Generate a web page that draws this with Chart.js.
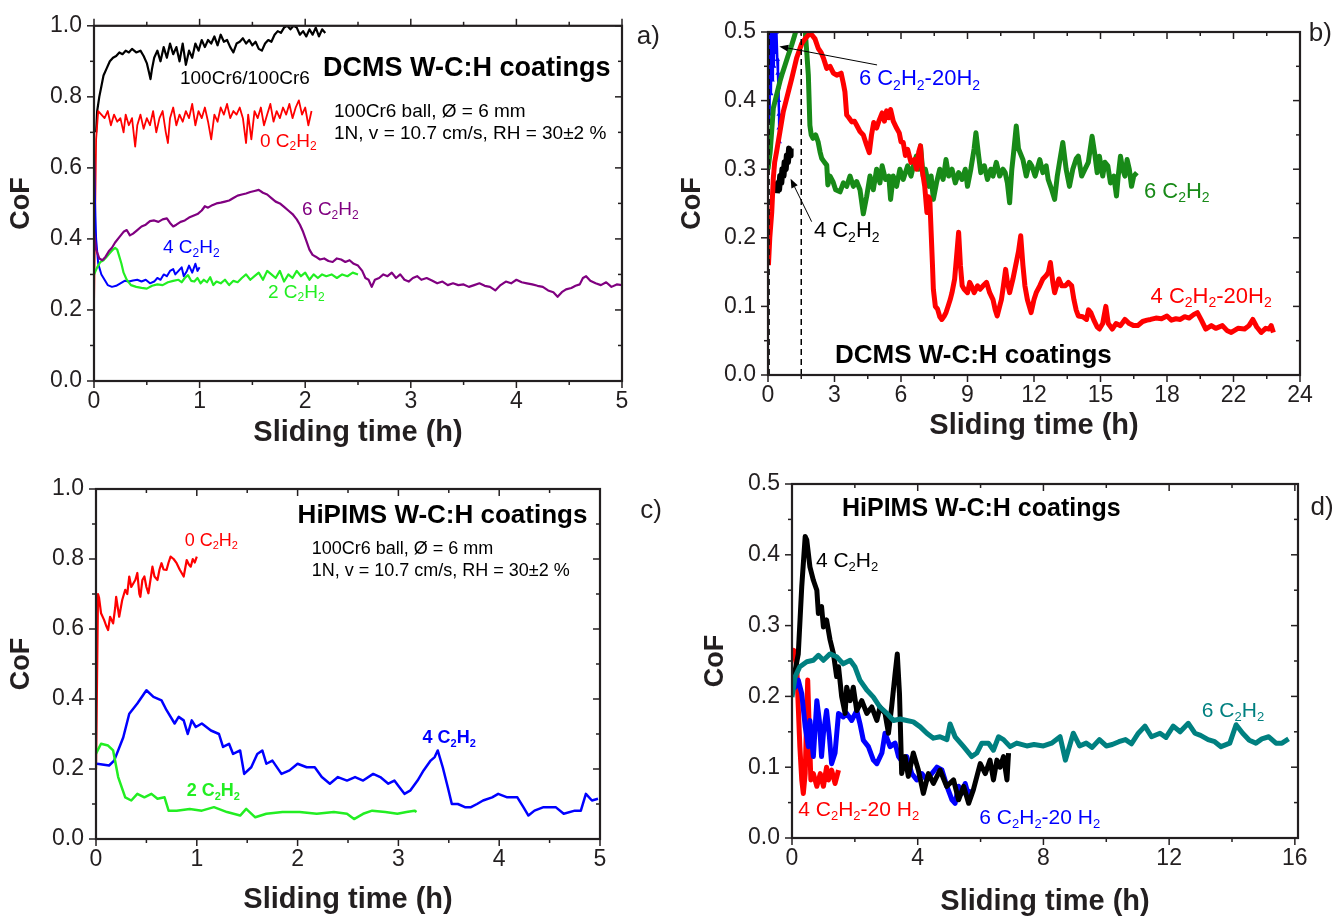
<!DOCTYPE html>
<html><head><meta charset="utf-8">
<script src="https://cdn.jsdelivr.net/npm/chart.js@4.4.1/dist/chart.umd.min.js"></script>
<style>
html,body{margin:0;padding:0;background:#fff;}
#wrap{position:relative;width:1336px;height:917px;overflow:hidden;background:#fff;}
canvas{position:absolute;left:0;top:0;}
</style></head>
<body><div id="wrap">
<canvas id="ca" width="1336" height="917"></canvas>
<canvas id="cb" width="1336" height="917"></canvas>
<canvas id="cc" width="1336" height="917"></canvas>
<canvas id="cd" width="1336" height="917"></canvas>
</div>
<script>
// ---------------- DATA (time in h, CoF) ----------------
const b_xTickLabels = ['0','3','6','9','12','15','18','22','24'];

// Panel a) DCMS, 1 N
const a_steel = [[0.02,0.70],[0.03,0.76],[0.05,0.80],[0.07,0.83],[0.09,0.86],[0.12,0.88],[0.15,0.90],[0.18,0.91],[0.21,0.915],[0.24,0.925],[0.27,0.92],[0.3,0.93],[0.33,0.925],[0.36,0.935],[0.4,0.925],[0.44,0.93],[0.47,0.915],[0.5,0.895],[0.52,0.87],[0.535,0.85],[0.55,0.88],[0.57,0.91],[0.6,0.93],[0.63,0.9],[0.66,0.94],[0.69,0.91],[0.72,0.95],[0.75,0.92],[0.78,0.94],[0.81,0.9],[0.84,0.95],[0.87,0.89],[0.9,0.93],[0.93,0.91],[0.96,0.95],[0.99,0.93],[1.02,0.96],[1.05,0.94],[1.08,0.96],[1.11,0.95],[1.14,0.97],[1.17,0.945],[1.2,0.975],[1.23,0.955],[1.26,0.96],[1.29,0.94],[1.32,0.925],[1.35,0.95],[1.38,0.955],[1.41,0.965],[1.44,0.95],[1.47,0.96],[1.5,0.945],[1.53,0.955],[1.56,0.935],[1.59,0.93],[1.62,0.95],[1.65,0.96],[1.68,0.955],[1.71,0.975],[1.74,0.985],[1.77,0.98],[1.8,0.995],[1.83,1.0],[1.86,0.99],[1.89,1.0],[1.92,0.995],[1.95,0.975],[1.98,0.985],[2.01,0.97],[2.04,0.99],[2.07,0.975],[2.1,0.995],[2.13,0.97],[2.16,0.99],[2.19,0.98]];
const a_c0 = [[0,0.2],[0.01,0.45],[0.02,0.68],[0.04,0.76],[0.07,0.75],[0.1,0.74],[0.13,0.76],[0.16,0.72],[0.19,0.75],[0.22,0.73],[0.25,0.74],[0.28,0.70],[0.3,0.75],[0.33,0.72],[0.36,0.74],[0.39,0.66],[0.41,0.72],[0.44,0.75],[0.47,0.71],[0.5,0.74],[0.53,0.72],[0.56,0.76],[0.59,0.70],[0.62,0.74],[0.65,0.76],[0.68,0.70],[0.7,0.67],[0.72,0.74],[0.75,0.77],[0.78,0.72],[0.81,0.75],[0.84,0.73],[0.87,0.76],[0.9,0.74],[0.93,0.78],[0.96,0.72],[0.99,0.76],[1.02,0.74],[1.05,0.77],[1.08,0.73],[1.11,0.68],[1.14,0.75],[1.17,0.73],[1.2,0.77],[1.23,0.75],[1.26,0.78],[1.29,0.74],[1.32,0.76],[1.35,0.75],[1.38,0.77],[1.41,0.74],[1.44,0.67],[1.46,0.75],[1.49,0.68],[1.52,0.76],[1.55,0.74],[1.58,0.77],[1.61,0.72],[1.64,0.75],[1.67,0.78],[1.7,0.73],[1.73,0.76],[1.76,0.74],[1.79,0.77],[1.82,0.75],[1.85,0.78],[1.88,0.74],[1.91,0.77],[1.94,0.79],[1.97,0.75],[2.0,0.77],[2.03,0.72],[2.06,0.76]];
const a_c6 = [[0,0.42],[0.02,0.37],[0.05,0.345],[0.08,0.34],[0.11,0.35],[0.14,0.365],[0.17,0.375],[0.2,0.39],[0.24,0.405],[0.28,0.42],[0.31,0.425],[0.34,0.41],[0.37,0.415],[0.41,0.425],[0.45,0.435],[0.49,0.44],[0.53,0.45],[0.57,0.452],[0.61,0.448],[0.65,0.455],[0.69,0.458],[0.72,0.445],[0.75,0.435],[0.78,0.44],[0.82,0.448],[0.86,0.452],[0.9,0.46],[0.94,0.465],[0.98,0.47],[1.02,0.48],[1.05,0.492],[1.08,0.488],[1.12,0.495],[1.16,0.5],[1.2,0.502],[1.24,0.505],[1.28,0.508],[1.32,0.515],[1.36,0.522],[1.4,0.525],[1.44,0.528],[1.48,0.532],[1.52,0.535],[1.56,0.538],[1.6,0.53],[1.64,0.525],[1.68,0.515],[1.72,0.505],[1.76,0.5],[1.8,0.49],[1.84,0.48],[1.88,0.47],[1.92,0.455],[1.95,0.44],[1.98,0.42],[2.01,0.395],[2.04,0.37],[2.07,0.355],[2.1,0.35],[2.14,0.342],[2.18,0.345],[2.22,0.338],[2.26,0.335],[2.3,0.345],[2.34,0.342],[2.38,0.335],[2.42,0.34],[2.46,0.33],[2.5,0.325],[2.54,0.31],[2.57,0.29],[2.6,0.285],[2.63,0.265],[2.66,0.285],[2.7,0.29],[2.74,0.3],[2.78,0.295],[2.82,0.305],[2.86,0.29],[2.9,0.3],[2.94,0.285],[2.98,0.28],[3.02,0.29],[3.06,0.295],[3.1,0.285],[3.15,0.29],[3.2,0.283],[3.25,0.275],[3.3,0.28],[3.35,0.27],[3.4,0.275],[3.45,0.27],[3.5,0.272],[3.55,0.265],[3.6,0.27],[3.65,0.275],[3.7,0.268],[3.75,0.265],[3.8,0.255],[3.85,0.27],[3.9,0.28],[3.95,0.275],[4.0,0.285],[4.05,0.278],[4.1,0.275],[4.15,0.272],[4.2,0.268],[4.25,0.265],[4.3,0.255],[4.35,0.25],[4.39,0.237],[4.43,0.25],[4.47,0.258],[4.52,0.262],[4.56,0.268],[4.6,0.272],[4.63,0.29],[4.66,0.295],[4.7,0.282],[4.75,0.275],[4.8,0.27],[4.85,0.278],[4.9,0.265],[4.95,0.272],[5.0,0.27]];
const a_c4 = [[0,0.64],[0.01,0.5],[0.02,0.4],[0.04,0.33],[0.07,0.3],[0.1,0.285],[0.13,0.27],[0.17,0.265],[0.21,0.268],[0.25,0.275],[0.29,0.282],[0.33,0.28],[0.37,0.283],[0.41,0.285],[0.45,0.28],[0.49,0.285],[0.53,0.275],[0.57,0.28],[0.6,0.29],[0.63,0.285],[0.66,0.3],[0.69,0.295],[0.72,0.31],[0.75,0.315],[0.77,0.3],[0.8,0.31],[0.83,0.32],[0.85,0.295],[0.88,0.31],[0.9,0.325],[0.93,0.305],[0.96,0.33],[0.98,0.31],[1.0,0.32]];
const a_c2 = [[0,0.3],[0.03,0.32],[0.06,0.335],[0.09,0.34],[0.12,0.35],[0.15,0.36],[0.18,0.37],[0.2,0.375],[0.22,0.37],[0.24,0.35],[0.26,0.33],[0.28,0.305],[0.31,0.285],[0.35,0.27],[0.4,0.265],[0.45,0.262],[0.5,0.26],[0.55,0.268],[0.6,0.272],[0.65,0.27],[0.7,0.278],[0.75,0.282],[0.8,0.285],[0.83,0.278],[0.86,0.29],[0.89,0.298],[0.92,0.282],[0.95,0.28],[0.98,0.29],[1.01,0.275],[1.04,0.285],[1.07,0.278],[1.1,0.292],[1.13,0.27],[1.16,0.28],[1.2,0.275],[1.24,0.285],[1.28,0.27],[1.32,0.282],[1.36,0.278],[1.4,0.29],[1.44,0.3],[1.48,0.285],[1.52,0.295],[1.56,0.305],[1.6,0.285],[1.64,0.31],[1.68,0.3],[1.72,0.29],[1.76,0.31],[1.8,0.28],[1.84,0.3],[1.88,0.29],[1.92,0.31],[1.96,0.295],[2.0,0.305],[2.04,0.285],[2.08,0.3],[2.12,0.29],[2.16,0.3],[2.2,0.295],[2.25,0.3],[2.3,0.29],[2.35,0.3],[2.4,0.295],[2.45,0.305],[2.5,0.3]];

// Panel b) DCMS, long runs
const b_c6 = [[0,0.3],[0.1,0.326],[0.24,0.389],[0.4,0.41],[0.54,0.428],[0.65,0.44],[0.77,0.452],[0.9,0.465],[1.07,0.481],[1.2,0.495],[1.29,0.505],[1.5,0.52],[1.67,0.505],[1.75,0.47],[1.82,0.437],[1.89,0.364],[1.95,0.35],[2.03,0.345],[2.15,0.35],[2.26,0.34],[2.35,0.325],[2.42,0.316],[2.55,0.31],[2.65,0.306],[2.7,0.277],[2.8,0.29],[2.93,0.282],[3.05,0.27],[3.25,0.267],[3.4,0.28],[3.55,0.275],[3.7,0.29],[3.85,0.275],[4.0,0.282],[4.15,0.27],[4.3,0.235],[4.45,0.26],[4.6,0.29],[4.75,0.27],[4.9,0.3],[5.05,0.28],[5.15,0.305],[5.3,0.285],[5.45,0.29],[5.53,0.256],[5.65,0.29],[5.8,0.275],[5.95,0.3],[6.1,0.285],[6.3,0.305],[6.45,0.29],[6.6,0.31],[6.69,0.319],[6.8,0.3],[6.88,0.334],[7.0,0.29],[7.1,0.3],[7.26,0.275],[7.36,0.29],[7.46,0.256],[7.6,0.28],[7.75,0.3],[7.9,0.285],[8.03,0.314],[8.15,0.29],[8.3,0.3],[8.45,0.28],[8.6,0.295],[8.75,0.285],[8.9,0.3],[9.0,0.275],[9.15,0.3],[9.3,0.33],[9.38,0.353],[9.5,0.32],[9.6,0.295],[9.76,0.305],[9.9,0.285],[10.05,0.3],[10.15,0.29],[10.3,0.31],[10.45,0.29],[10.6,0.3],[10.7,0.295],[10.8,0.28],[10.9,0.251],[11.0,0.3],[11.1,0.33],[11.2,0.363],[11.3,0.33],[11.5,0.314],[11.65,0.29],[11.8,0.31],[11.9,0.305],[12.05,0.29],[12.26,0.314],[12.4,0.295],[12.55,0.305],[12.64,0.285],[12.8,0.27],[12.93,0.256],[13.05,0.29],[13.15,0.31],[13.3,0.339],[13.45,0.3],[13.6,0.275],[13.75,0.3],[13.9,0.315],[14.0,0.319],[14.15,0.29],[14.3,0.3],[14.45,0.31],[14.62,0.348],[14.75,0.32],[14.85,0.295],[14.95,0.319],[15.1,0.29],[15.2,0.31],[15.33,0.305],[15.45,0.28],[15.6,0.29],[15.72,0.261],[15.8,0.29],[15.9,0.319],[16.0,0.3],[16.1,0.29],[16.2,0.314],[16.3,0.3],[16.4,0.275],[16.5,0.29],[16.64,0.295]];
const b_h4 = [[0.02,0.16],[0.08,0.2],[0.17,0.238],[0.24,0.287],[0.3,0.31],[0.39,0.326],[0.54,0.355],[0.69,0.384],[0.84,0.403],[1.07,0.432],[1.29,0.462],[1.52,0.483],[1.67,0.49],[1.89,0.498],[2.0,0.495],[2.12,0.49],[2.27,0.476],[2.4,0.47],[2.5,0.462],[2.65,0.447],[2.8,0.45],[2.95,0.44],[3.1,0.437],[3.3,0.44],[3.4,0.425],[3.47,0.413],[3.55,0.379],[3.65,0.375],[3.78,0.369],[3.9,0.37],[4.0,0.364],[4.15,0.355],[4.3,0.35],[4.45,0.335],[4.57,0.324],[4.67,0.35],[4.77,0.368],[4.9,0.36],[5.0,0.37],[5.15,0.382],[5.25,0.37],[5.35,0.385],[5.45,0.375],[5.53,0.387],[5.65,0.37],[5.8,0.36],[5.92,0.353],[6.0,0.34],[6.1,0.339],[6.2,0.32],[6.3,0.329],[6.45,0.31],[6.6,0.314],[6.7,0.3],[6.8,0.325],[6.88,0.334],[6.95,0.3],[7.07,0.275],[7.17,0.237],[7.24,0.26],[7.3,0.256],[7.36,0.208],[7.42,0.16],[7.46,0.125],[7.55,0.1],[7.65,0.096],[7.75,0.085],[7.84,0.081],[7.95,0.086],[8.03,0.091],[8.12,0.1],[8.22,0.11],[8.3,0.12],[8.42,0.14],[8.5,0.17],[8.6,0.208],[8.68,0.16],[8.76,0.13],[8.85,0.125],[9.0,0.12],[9.1,0.135],[9.18,0.13],[9.3,0.12],[9.45,0.13],[9.57,0.125],[9.7,0.13],[9.86,0.135],[10.0,0.12],[10.15,0.11],[10.25,0.095],[10.34,0.086],[10.45,0.1],[10.53,0.11],[10.62,0.13],[10.72,0.154],[10.8,0.135],[10.9,0.12],[11.05,0.14],[11.2,0.164],[11.3,0.18],[11.4,0.203],[11.5,0.16],[11.59,0.13],[11.7,0.11],[11.87,0.091],[12.0,0.11],[12.1,0.12],[12.26,0.13],[12.4,0.14],[12.55,0.145],[12.65,0.15],[12.74,0.164],[12.85,0.135],[12.93,0.12],[13.02,0.13],[13.12,0.14],[13.25,0.13],[13.41,0.13],[13.55,0.135],[13.7,0.13],[13.8,0.11],[13.9,0.095],[14.0,0.086],[14.2,0.085],[14.37,0.081],[14.46,0.095],[14.56,0.091],[14.7,0.08],[14.85,0.07],[14.95,0.067],[15.1,0.075],[15.24,0.1],[15.35,0.075],[15.53,0.067],[15.7,0.075],[15.9,0.072],[16.1,0.081],[16.3,0.075],[16.5,0.072],[16.68,0.072],[16.9,0.078],[17.1,0.08],[17.26,0.081],[17.5,0.083],[17.75,0.082],[18.0,0.086],[18.2,0.08],[18.4,0.082],[18.6,0.081],[18.8,0.085],[19.0,0.083],[19.2,0.088],[19.37,0.091],[19.55,0.08],[19.75,0.067],[20.0,0.072],[20.2,0.068],[20.5,0.072],[20.7,0.065],[20.9,0.062],[21.2,0.068],[21.5,0.067],[21.7,0.072],[21.87,0.081],[22.05,0.07],[22.25,0.062],[22.45,0.068],[22.6,0.067],[22.7,0.072],[22.8,0.062]];
const b_c4 = [[0.4,0.265],[0.45,0.28],[0.5,0.27],[0.55,0.29],[0.6,0.28],[0.65,0.3],[0.7,0.29],[0.75,0.31],[0.8,0.3],[0.85,0.32],[0.9,0.31],[0.95,0.33],[1.0,0.32],[1.02,0.33]];
const b_h6 = [[0.02,0.37],[0.04,0.5],[0.07,0.38],[0.1,0.5],[0.13,0.41],[0.16,0.5],[0.19,0.43],[0.22,0.5],[0.26,0.45],[0.3,0.5],[0.34,0.47],[0.38,0.5],[0.42,0.46],[0.45,0.44],[0.47,0.42],[0.48,0.4],[0.5,0.38],[0.5,0.36],[0.51,0.34]];
const b_mark1 = [[0.05,0],[0.05,0.5]];
const b_mark2 = [[1.5,0],[1.5,0.5]];

// Panel c) HiPIMS, 1 N
const c_c0 = [[0,0.2],[0.01,0.45],[0.02,0.7],[0.03,0.69],[0.05,0.645],[0.08,0.626],[0.1,0.61],[0.12,0.597],[0.14,0.635],[0.17,0.616],[0.19,0.66],[0.2,0.692],[0.23,0.635],[0.26,0.683],[0.29,0.712],[0.31,0.7],[0.33,0.75],[0.35,0.72],[0.37,0.73],[0.39,0.74],[0.41,0.76],[0.43,0.7],[0.44,0.692],[0.46,0.74],[0.48,0.75],[0.5,0.72],[0.52,0.702],[0.54,0.74],[0.56,0.778],[0.58,0.75],[0.61,0.74],[0.63,0.77],[0.65,0.788],[0.67,0.77],[0.7,0.769],[0.72,0.79],[0.74,0.807],[0.77,0.8],[0.8,0.788],[0.83,0.77],[0.85,0.76],[0.87,0.75],[0.9,0.797],[0.92,0.785],[0.94,0.778],[0.96,0.8],[0.98,0.79],[1.0,0.807]];
const c_c4 = [[0.01,0.215],[0.13,0.21],[0.18,0.224],[0.27,0.29],[0.33,0.358],[0.41,0.387],[0.5,0.425],[0.57,0.406],[0.65,0.396],[0.7,0.368],[0.78,0.33],[0.82,0.349],[0.87,0.339],[0.91,0.3],[0.95,0.339],[0.99,0.32],[1.05,0.33],[1.14,0.31],[1.22,0.3],[1.26,0.263],[1.32,0.272],[1.36,0.243],[1.43,0.253],[1.47,0.186],[1.54,0.205],[1.6,0.243],[1.65,0.253],[1.69,0.215],[1.75,0.224],[1.84,0.186],[1.92,0.196],[2.0,0.215],[2.09,0.205],[2.17,0.205],[2.24,0.177],[2.32,0.158],[2.4,0.177],[2.49,0.167],[2.57,0.177],[2.65,0.167],[2.75,0.186],[2.82,0.177],[2.9,0.158],[2.96,0.167],[3.01,0.148],[3.06,0.129],[3.12,0.139],[3.19,0.167],[3.25,0.196],[3.32,0.224],[3.36,0.234],[3.39,0.253],[3.44,0.205],[3.49,0.148],[3.53,0.1],[3.59,0.1],[3.66,0.091],[3.72,0.091],[3.78,0.1],[3.84,0.11],[3.93,0.119],[3.99,0.129],[4.08,0.119],[4.18,0.119],[4.24,0.091],[4.29,0.067],[4.35,0.081],[4.44,0.091],[4.56,0.091],[4.64,0.072],[4.75,0.081],[4.81,0.081],[4.86,0.129],[4.92,0.11],[4.98,0.115]];
const c_c2 = [[0,0.244],[0.05,0.272],[0.12,0.267],[0.17,0.253],[0.22,0.177],[0.29,0.119],[0.35,0.11],[0.41,0.129],[0.48,0.119],[0.55,0.129],[0.61,0.115],[0.68,0.119],[0.72,0.081],[0.8,0.081],[0.93,0.086],[1.05,0.081],[1.17,0.091],[1.3,0.077],[1.43,0.067],[1.49,0.086],[1.58,0.062],[1.69,0.072],[1.85,0.077],[2.02,0.077],[2.19,0.072],[2.36,0.077],[2.49,0.072],[2.56,0.057],[2.65,0.072],[2.74,0.081],[2.87,0.077],[2.99,0.072],[3.08,0.077],[3.16,0.081],[3.18,0.077]];

// Panel d) HiPIMS, long runs
const d_c4 = [[0.04,0.223],[0.2,0.26],[0.31,0.355],[0.42,0.426],[0.47,0.421],[0.57,0.383],[0.68,0.364],[0.79,0.35],[0.84,0.317],[0.94,0.327],[1.0,0.298],[1.1,0.308],[1.21,0.28],[1.32,0.26],[1.42,0.228],[1.48,0.242],[1.58,0.2],[1.69,0.176],[1.74,0.213],[1.85,0.194],[1.95,0.213],[2.06,0.18],[2.22,0.194],[2.38,0.176],[2.54,0.185],[2.7,0.166],[2.8,0.185],[2.96,0.176],[3.07,0.148],[3.17,0.185],[3.28,0.232],[3.35,0.26],[3.42,0.204],[3.49,0.091],[3.6,0.115],[3.7,0.087],[3.86,0.12],[4.02,0.096],[4.18,0.063],[4.34,0.091],[4.5,0.077],[4.71,0.096],[4.92,0.073],[5.14,0.082],[5.3,0.054],[5.46,0.073],[5.62,0.049],[5.77,0.068],[5.99,0.105],[6.15,0.091],[6.3,0.11],[6.41,0.082],[6.52,0.11],[6.62,0.1],[6.73,0.115],[6.84,0.082],[6.89,0.12]];
const d_c6 = [[0.0,0.199],[0.1,0.228],[0.25,0.242],[0.47,0.249],[0.68,0.251],[0.84,0.258],[1.0,0.251],[1.21,0.26],[1.42,0.256],[1.63,0.246],[1.85,0.251],[2.0,0.242],[2.16,0.223],[2.38,0.209],[2.59,0.199],[2.8,0.185],[3.02,0.176],[3.23,0.166],[3.44,0.168],[3.65,0.166],[3.86,0.164],[4.08,0.157],[4.29,0.148],[4.5,0.141],[4.71,0.143],[4.93,0.139],[5.03,0.161],[5.19,0.143],[5.46,0.129],[5.72,0.115],[5.88,0.12],[6.04,0.134],[6.25,0.134],[6.41,0.124],[6.57,0.143],[6.73,0.139],[6.94,0.129],[7.15,0.134],[7.47,0.13],[7.7,0.132],[8.0,0.13],[8.26,0.134],[8.53,0.143],[8.7,0.11],[8.95,0.148],[9.15,0.13],[9.36,0.134],[9.55,0.128],[9.78,0.139],[10.0,0.13],[10.19,0.132],[10.4,0.136],[10.61,0.139],[10.8,0.133],[11.02,0.148],[11.23,0.158],[11.44,0.143],[11.71,0.148],[11.9,0.142],[12.13,0.158],[12.35,0.15],[12.61,0.162],[12.82,0.148],[13.0,0.145],[13.24,0.139],[13.45,0.136],[13.65,0.129],[13.93,0.134],[14.13,0.16],[14.34,0.148],[14.55,0.138],[14.76,0.134],[14.95,0.14],[15.17,0.143],[15.4,0.134],[15.59,0.134],[15.8,0.14]];
const d_h4 = [[0.0,0.251],[0.06,0.265],[0.15,0.242],[0.2,0.185],[0.25,0.129],[0.31,0.082],[0.36,0.063],[0.42,0.091],[0.47,0.176],[0.5,0.223],[0.55,0.152],[0.6,0.082],[0.68,0.091],[0.79,0.073],[0.9,0.091],[1.0,0.073],[1.1,0.1],[1.16,0.082],[1.26,0.096],[1.37,0.077],[1.48,0.096]];
const d_h6 = [[0.0,0.232],[0.1,0.213],[0.2,0.223],[0.31,0.204],[0.42,0.157],[0.52,0.129],[0.57,0.166],[0.68,0.115],[0.79,0.194],[0.87,0.166],[0.94,0.115],[1.0,0.148],[1.1,0.18],[1.19,0.143],[1.26,0.105],[1.37,0.12],[1.48,0.176],[1.63,0.171],[1.74,0.176],[1.9,0.166],[2.06,0.18],[2.16,0.162],[2.27,0.138],[2.43,0.129],[2.59,0.11],[2.7,0.105],[2.86,0.12],[2.96,0.148],[3.12,0.129],[3.28,0.134],[3.39,0.115],[3.55,0.105],[3.65,0.115],[3.81,0.091],[3.97,0.082],[4.13,0.091],[4.29,0.082],[4.45,0.091],[4.61,0.1],[4.77,0.096],[4.93,0.073],[5.09,0.054],[5.19,0.049],[5.3,0.073],[5.4,0.063],[5.51,0.077],[5.62,0.059],[5.72,0.068]];

// ---------------- RENDERING ----------------
const FAM = "'Liberation Sans', Arial, Helvetica, sans-serif";
const INK = '#231f20';
const RED = '#ff0000', BLUE = '#0000ff', LIME = '#22ee22', PURPLE = '#800080', DGREEN = '#188a18', TEAL = '#008080', BLACK = '#000000';

function pts(arr){ return arr.map(p => ({x:p[0], y:p[1]})); }
function ser(arr, color, width, extra){
  return Object.assign({data: pts(arr), borderColor: color, backgroundColor: color, borderWidth: width,
    pointRadius: 0, tension: 0, fill: false, clip: 0, borderJoinStyle: 'round', borderCapStyle: 'butt'}, extra || {});
}

function drawRich(ctx, x, yc, text, size, bold, color, align){
  const segs = [];
  for (let i = 0; i < text.length; i++) {
    if (text[i] === '_') { segs.push({s: text[i+1], sub: true}); i++; }
    else if (segs.length && !segs[segs.length-1].sub) segs[segs.length-1].s += text[i];
    else segs.push({s: text[i], sub: false});
  }
  const w0 = bold ? 'bold ' : '';
  const fMain = w0 + size + 'px ' + FAM;
  const fSub = w0 + Math.round(size*0.62) + 'px ' + FAM;
  let w = 0;
  for (const sg of segs) { ctx.font = sg.sub ? fSub : fMain; sg.w = ctx.measureText(sg.s).width; w += sg.w; }
  let cx = align === 'center' ? x - w/2 : (align === 'right' ? x - w : x);
  const base = yc + size*0.358;
  ctx.fillStyle = color; ctx.textBaseline = 'alphabetic'; ctx.textAlign = 'left';
  for (const sg of segs) { ctx.font = sg.sub ? fSub : fMain; ctx.fillText(sg.s, cx, sg.sub ? base + size*0.2 : base); cx += sg.w; }
}

const framePlugin = {
  id: 'frame',
  afterDatasetsDraw(chart, args, o){
    const {ctx, chartArea: a, scales: {x, y}} = chart;
    ctx.save();
    ctx.strokeStyle = INK; ctx.lineCap = 'butt';
    ctx.lineWidth = 1.5;
    const seg = (x1,y1,x2,y2) => { ctx.beginPath(); ctx.moveTo(x1,y1); ctx.lineTo(x2,y2); ctx.stroke(); };
    const nx = Math.floor((x.max - x.min)/o.xMinor + 1e-6);
    for (let i = 0; i <= nx; i++) {
      const v = x.min + i*o.xMinor;
      const px = x.getPixelForValue(v);
      const major = Math.abs(v/o.xMajor - Math.round(v/o.xMajor)) < 1e-6;
      const len = major ? 7 : 4;
      seg(px, a.bottom, px, a.bottom + len);
      if (o.topOut) seg(px, a.top, px, a.top - len); else seg(px, a.top, px, a.top + len);
    }
    const ny = Math.floor((y.max - y.min)/o.yMinor + 1e-6);
    for (let i = 0; i <= ny; i++) {
      const v = y.min + i*o.yMinor;
      const py = y.getPixelForValue(v);
      const major = Math.abs(v/o.yMajor - Math.round(v/o.yMajor)) < 1e-6;
      const len = major ? 7 : 4;
      seg(a.left, py, a.left - len, py);
      seg(a.right, py, a.right - len, py);
    }
    ctx.lineWidth = 2.2;
    ctx.strokeRect(a.left, a.top, a.right - a.left, a.bottom - a.top);
    // arrows
    for (const ar of (o.arrows || [])) {
      const x1 = x.getPixelForValue(ar.from[0]), y1 = y.getPixelForValue(ar.from[1]);
      const x2 = x.getPixelForValue(ar.to[0]), y2 = y.getPixelForValue(ar.to[1]);
      ctx.strokeStyle = '#000'; ctx.fillStyle = '#000'; ctx.lineWidth = 1;
      const ang = Math.atan2(y2 - y1, x2 - x1);
      const hl = 9, hw = 3.5;
      const bx = x2 - hl*Math.cos(ang), by = y2 - hl*Math.sin(ang);
      seg(x1, y1, bx, by);
      ctx.beginPath(); ctx.moveTo(x2, y2);
      ctx.lineTo(bx + hw*Math.sin(ang), by - hw*Math.cos(ang));
      ctx.lineTo(bx - hw*Math.sin(ang), by + hw*Math.cos(ang));
      ctx.closePath(); ctx.fill();
    }
    // text labels
    for (const it of (o.items || [])) {
      drawRich(ctx, x.getPixelForValue(it.t), y.getPixelForValue(it.v), it.text, it.size, !!it.bold, it.color || INK, it.align || 'left');
    }
    ctx.restore();
  }
};

function makeChart(id, c, datasets){
  return new Chart(document.getElementById(id), {
    type: 'line',
    data: {datasets},
    plugins: [framePlugin],
    options: {
      responsive: false, animation: false, devicePixelRatio: 1,
      layout: {padding: {left: c.L - c.yW, right: 1336 - c.R, top: c.T, bottom: 917 - c.B - c.xH}},
      plugins: {legend: {display: false}, tooltip: {enabled: false},
        frame: {xMinor: c.xMinor, xMajor: c.xStep, yMinor: c.yMinor, yMajor: c.yStep, topOut: c.topOut, items: c.items, arrows: c.arrows}},
      scales: {
        x: {type: 'linear', min: 0, max: c.xMax,
          ticks: {stepSize: c.xStep, includeBounds: false, autoSkip: false, maxRotation: 0, padding: 7,
            color: INK, font: {family: FAM, size: 23}, callback: c.xCb || (v => String(v))},
          grid: {display: false, drawTicks: false}, border: {display: false},
          title: {display: true, text: 'Sliding time (h)', color: INK,
            font: {family: FAM, size: 29, weight: 'bold', lineHeight: 1}, padding: {top: 0, bottom: c.xTP}},
          afterFit: s => { s.height = c.xH; }},
        y: {type: 'linear', min: 0, max: c.yMax,
          ticks: {stepSize: c.yStep, autoSkip: false, padding: 12, color: INK, font: {family: FAM, size: 23},
            callback: v => Number(v).toFixed(1)},
          grid: {display: false, drawTicks: false}, border: {display: false},
          title: {display: true, text: 'CoF', color: INK,
            font: {family: FAM, size: 27, weight: 'bold', lineHeight: 1}, padding: {top: c.yTP, bottom: 0}},
          afterFit: s => { s.width = c.yW; }}
      }
    }
  });
}

// a)
makeChart('ca', {L:94, R:622, T:23, B:381, yW:94, xH:70, xTP:4, yTP:8, xMax:5, xStep:1, xMinor:0.5, yMax:1, yStep:0.2, yMinor:0.1, topOut:true,
  items: [
    {t:0.814, v:0.855, text:'100Cr6/100Cr6', color:BLACK, size:19},
    {t:2.169, v:0.885, text:'DCMS W-C:H coatings', color:BLACK, size:27, bold:true},
    {t:2.273, v:0.763, text:'100Cr6 ball, Ø = 6 mm', color:BLACK, size:19},
    {t:2.273, v:0.701, text:'1N, v = 10.7 cm/s, RH = 30±2 %', color:BLACK, size:19},
    {t:1.572, v:0.679, text:'0 C_2H_2', color:RED, size:19},
    {t:1.97, v:0.486, text:'6 C_2H_2', color:PURPLE, size:19},
    {t:0.653, v:0.38, text:'4 C_2H_2', color:BLUE, size:19},
    {t:1.648, v:0.254, text:'2 C_2H_2', color:LIME, size:19},
    {t:5.14, v:0.975, text:'a)', color:INK, size:26}
  ]},
  [ser(a_c6, PURPLE, 2.2), ser(a_c2, LIME, 2.2), ser(a_c4, BLUE, 2), ser(a_c0, RED, 1.8), ser(a_steel, BLACK, 2.2)]);

// b)
makeChart('cb', {L:768, R:1300, T:32, B:375, yW:95, xH:70, xTP:5, yTP:6.5, xMax:24, xStep:3, xMinor:1.5, yMax:0.5, yStep:0.1, yMinor:0.05, topOut:false,
  xCb: v => b_xTickLabels[Math.round(v/3)],
  arrows: [{from:[4.92,0.452], to:[0.51,0.479]}, {from:[1.97,0.2235], to:[1.02,0.286]}],
  items: [
    {t:4.1, v:0.434, text:'6 C_2H_2-20H_2', color:BLUE, size:22},
    {t:16.96, v:0.27, text:'6 C_2H_2', color:DGREEN, size:22},
    {t:2.07, v:0.212, text:'4 C_2H_2', color:BLACK, size:22},
    {t:17.26, v:0.117, text:'4 C_2H_2-20H_2', color:RED, size:22},
    {t:3.02, v:0.031, text:'DCMS W-C:H coatings', color:BLACK, size:26, bold:true},
    {t:24.4, v:0.5, text:'b)', color:INK, size:26}
  ]},
  [ser(b_mark1, BLACK, 1.5, {borderDash:[6,4]}), ser(b_mark2, BLACK, 1.5, {borderDash:[6,4]}),
   ser(b_h4, RED, 5), ser(b_c6, DGREEN, 5), ser(b_c4, BLACK, 6),
   ser(b_h6, BLUE, 2.5, {pointRadius:3, pointStyle:'triangle', pointBackgroundColor:BLUE, pointBorderWidth:0})]);

// c)
makeChart('cc', {L:96, R:600, T:489, B:839, yW:96, xH:78, xTP:3, yTP:8, xMax:5, xStep:1, xMinor:0.5, yMax:1, yStep:0.2, yMinor:0.1, topOut:false,
  items: [
    {t:2.0, v:0.93, text:'HiPIMS W-C:H coatings', color:BLACK, size:26, bold:true},
    {t:2.14, v:0.832, text:'100Cr6 ball, Ø = 6 mm', color:BLACK, size:18},
    {t:2.14, v:0.77, text:'1N, v = 10.7 cm/s, RH = 30±2 %', color:BLACK, size:18},
    {t:0.88, v:0.856, text:'0 C_2H_2', color:RED, size:18},
    {t:3.24, v:0.2915, text:'4 C_2H_2', color:BLUE, size:18, bold:true},
    {t:0.9, v:0.14, text:'2 C_2H_2', color:LIME, size:18, bold:true},
    {t:5.4, v:0.943, text:'c)', color:INK, size:26}
  ]},
  [ser(c_c2, LIME, 2.5), ser(c_c4, BLUE, 2.5), ser(c_c0, RED, 2.2)]);

// d)
makeChart('cd', {L:792, R:1298, T:484, B:838, yW:102, xH:79, xTP:1, yTP:12.5, xMax:16.1, xStep:4, xMinor:2, yMax:0.5, yStep:0.1, yMinor:0.05, topOut:false,
  items: [
    {t:1.59, v:0.467, text:'HiPIMS W-C:H coatings', color:BLACK, size:25, bold:true},
    {t:0.76, v:0.393, text:'4 C_2H_2', color:BLACK, size:21},
    {t:13.04, v:0.182, text:'6 C_2H_2', color:TEAL, size:21},
    {t:0.2, v:0.042, text:'4 C_2H_2-20 H_2', color:RED, size:21},
    {t:5.96, v:0.03, text:'6 C_2H_2-20 H_2', color:BLUE, size:21},
    {t:16.5, v:0.47, text:'d)', color:INK, size:26}
  ]},
  [ser(d_c6, TEAL, 5), ser(d_c4, BLACK, 5), ser(d_h6, BLUE, 5), ser(d_h4, RED, 5)]);
</script>
</body></html>
